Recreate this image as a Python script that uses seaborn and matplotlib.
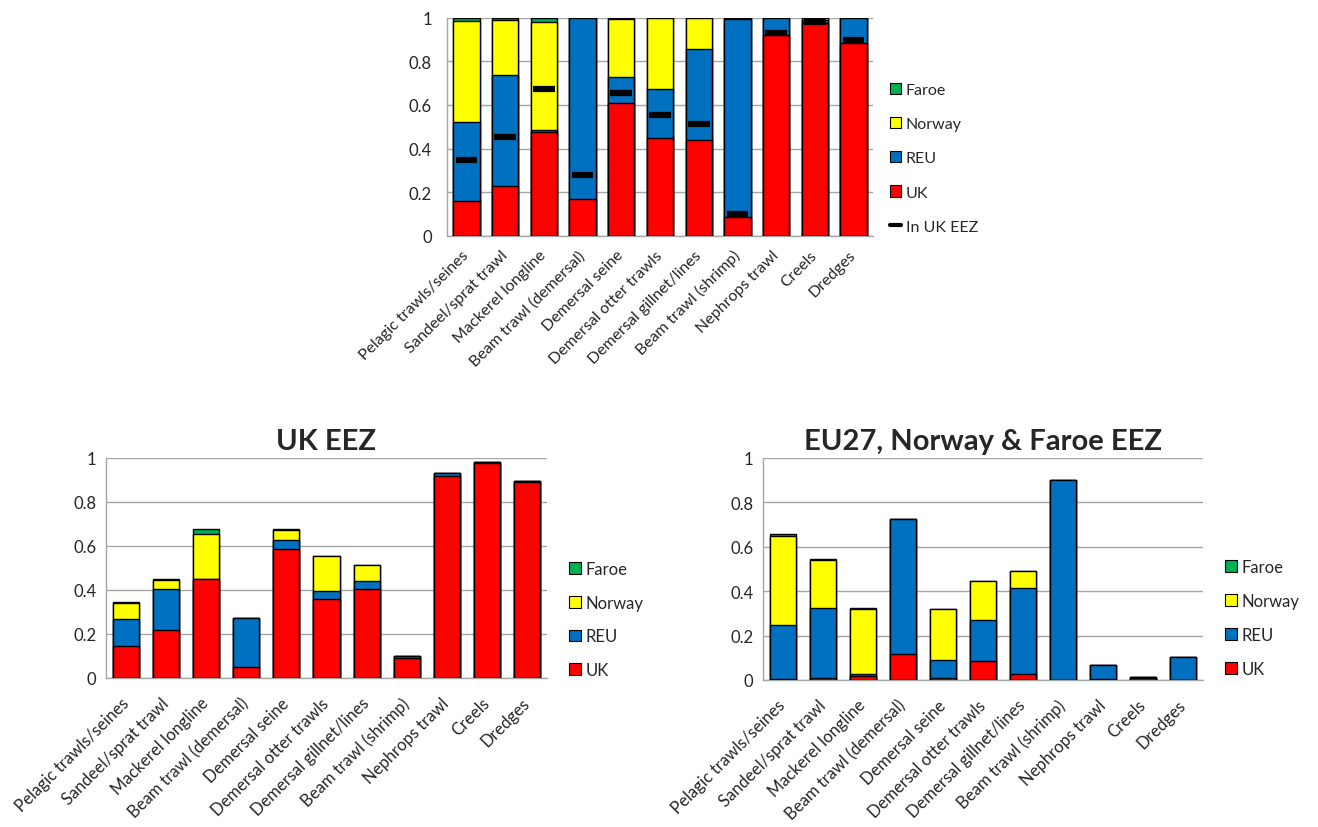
import numpy as np
import pandas as pd
import matplotlib
matplotlib.use("Agg")
import matplotlib.pyplot as plt
import seaborn as sns
from matplotlib.patches import Patch
from matplotlib.lines import Line2D

sns.set_style("white")
plt.rcParams['font.family'] = ['Lato', 'DejaVu Sans']

categories = ["Pelagic trawls/seines", "Sandeel/sprat trawl", "Mackerel longline",
              "Beam trawl (demersal)", "Demersal seine", "Demersal otter trawls",
              "Demersal gillnet/lines", "Beam trawl (shrimp)", "Nephrops trawl",
              "Creels", "Dredges"]
series = ["UK", "REU", "Norway", "Faroe"]
yticks = [0, 0.2, 0.4, 0.6, 0.8, 1]
yticklabels = ["0", "0.2", "0.4", "0.6", "0.8", "1"]

# All areas
uk_all = [0.160, 0.227, 0.476, 0.169, 0.608, 0.448, 0.439, 0.087, 0.921, 0.977, 0.884]
reu_all = [0.361, 0.509, 0.010, 0.831, 0.118, 0.226, 0.419, 0.907, 0.079, 0.013, 0.116]
nor_all = [0.462, 0.253, 0.493, 0.000, 0.268, 0.326, 0.142, 0.004, 0.000, 0.008, 0.000]
far_all = [0.017, 0.011, 0.021, 0.000, 0.006, 0.000, 0.000, 0.002, 0.000, 0.002, 0.000]
in_uk_eez = [0.349, 0.451, 0.675, 0.277, 0.654, 0.553, 0.512, 0.099, 0.931, 0.980, 0.895]

# UK EEZ
uk_uk = [0.145, 0.219, 0.450, 0.050, 0.586, 0.358, 0.403, 0.092, 0.915, 0.977, 0.888]
reu_uk = [0.124, 0.186, 0.000, 0.223, 0.041, 0.036, 0.037, 0.008, 0.015, 0.002, 0.006]
nor_uk = [0.071, 0.041, 0.204, 0.000, 0.045, 0.160, 0.074, 0.000, 0.000, 0.000, 0.000]
far_uk = [0.006, 0.004, 0.024, 0.000, 0.004, 0.000, 0.000, 0.000, 0.000, 0.000, 0.000]

# EU27, Norway & Faroe EEZ
uk_eu = [0.003, 0.008, 0.017, 0.117, 0.011, 0.086, 0.026, 0.000, 0.005, 0.008, 0.002]
reu_eu = [0.245, 0.318, 0.009, 0.608, 0.081, 0.186, 0.387, 0.899, 0.061, 0.004, 0.102]
nor_eu = [0.398, 0.215, 0.295, 0.000, 0.229, 0.174, 0.078, 0.000, 0.000, 0.000, 0.000]
far_eu = [0.009, 0.004, 0.002, 0.000, 0.000, 0.000, 0.000, 0.000, 0.000, 0.000, 0.000]

colors = {"UK": "#FF0000", "REU": "#0070C0", "Norway": "#FFFF00", "Faroe": "#00B050"}
grid_c = "#A6A6A6"

fig = plt.figure(figsize=(13.18, 8.28), dpi=100)


def stacked(ax, layers, width, ypad, tickfs, labfs, xpad):
    df = pd.DataFrame(layers, index=series).T
    cum = df[series].cumsum(axis=1)
    for s in reversed(series):
        sns.barplot(x=categories, y=cum[s].values, order=categories, color=colors[s],
                    width=width, edgecolor="black", linewidth=1.0, saturation=1,
                    ax=ax, zorder=3)
    ax.set_ylim(0, 1)
    ax.set_xlim(-0.5, len(categories) - 0.5)
    ax.set_yticks(yticks)
    ax.set_yticklabels(yticklabels, fontsize=tickfs)
    ax.yaxis.grid(True, color=grid_c, linewidth=1.0, zorder=0)
    ax.set_axisbelow(True)
    for sp in ["right", "top"]:
        ax.spines[sp].set_visible(False)
    for sp in ["left", "bottom"]:
        ax.spines[sp].set_color(grid_c)
        ax.spines[sp].set_linewidth(1.0)
    ax.tick_params(axis="y", length=0, pad=ypad)
    ax.tick_params(axis="x", which="major", length=0, pad=xpad)
    ax.set_xticks(range(len(categories)))
    ax.set_xticklabels(categories, rotation=45, ha="right", va="center",
                       rotation_mode="anchor", fontsize=labfs)
    ax.set_xlabel("")
    ax.set_ylabel("")


def legend(x, y, fs, spacing, with_eez=False):
    handles = [Patch(facecolor=colors[s], edgecolor="black", linewidth=0.8, label=s)
               for s in reversed(series)]
    if with_eez:
        handles.append(Line2D([0], [0], color="black", linewidth=3, label="In UK EEZ"))
    fig.legend(handles=handles, loc="upper left", bbox_to_anchor=(x, y),
               bbox_transform=fig.transFigure, frameon=False, fontsize=fs,
               handlelength=0.7, handleheight=0.7, handletextpad=0.3,
               labelspacing=spacing, borderaxespad=0, borderpad=0)


# Top chart
ax1 = fig.add_axes([447 / 1318, 1 - 237 / 828, 426 / 1318, 218.5 / 828])
stacked(ax1, [uk_all, reu_all, nor_all, far_all], 0.68, 7, 12, 11.5, 12)
ax1.tick_params(axis="y", length=4, color=grid_c, width=1, direction="out")
ax1.set_xticks(np.arange(-0.5, len(categories), 1), minor=True)
ax1.tick_params(axis="x", which="minor", length=4, color=grid_c, width=1)
xs = np.arange(len(categories))
ax1.hlines(in_uk_eez, xs - 0.28, xs + 0.28, colors="black", linewidth=4.5, zorder=5)
legend(890 / 1318, 1 - 84 / 828, 11.5, 1.25, with_eez=True)

# UK EEZ
ax2 = fig.add_axes([106 / 1318, 1 - 679 / 828, 441 / 1318, 220.3 / 828])
stacked(ax2, [uk_uk, reu_uk, nor_uk, far_uk], 0.65, 7, 12, 12, 16)
ax2.set_title("UK EEZ", fontsize=21, fontweight="bold", pad=6)
legend(569 / 1318, 1 - 562 / 828, 12, 1.06)

# EU27 EEZ
ax3 = fig.add_axes([763 / 1318, 1 - 681 / 828, 440 / 1318, 222.3 / 828])
stacked(ax3, [uk_eu, reu_eu, nor_eu, far_eu], 0.65, 7, 12, 12, 16)
ax3.set_title("EU27, Norway & Faroe EEZ", fontsize=21, fontweight="bold", pad=6)
legend(1225 / 1318, 1 - 560 / 828, 12, 1.08)

fig.savefig("out.png", dpi=100)
